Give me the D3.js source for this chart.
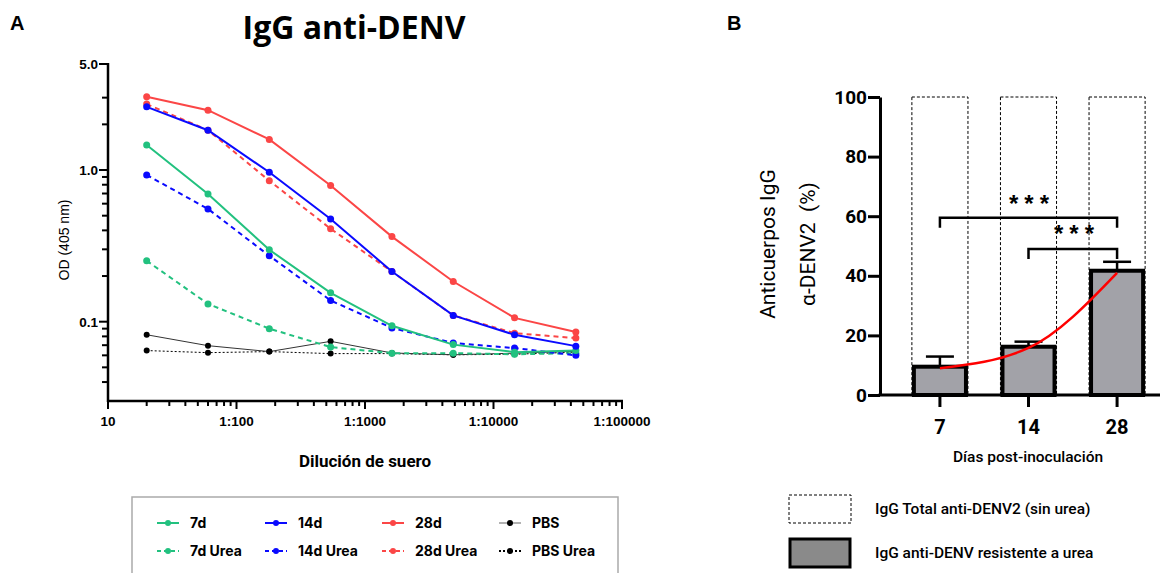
<!DOCTYPE html>
<html>
<head>
<meta charset="utf-8">
<script src="https://cdn.jsdelivr.net/npm/d3@7"></script>
<style>
  body { margin:0; background:#fff; font-family:"Liberation Sans", Arial, sans-serif; }
  svg text { font-family:"Liberation Sans", Arial, sans-serif; }
</style>
</head>
<body>
<div id="chart"></div>
<script>
// ---- panel A data (3-fold dilutions from 1:20) ----
var dilutions = [20, 60, 180, 540, 1620, 4860, 14580, 43740];
var od7    = [1.46, 0.695, 0.298, 0.155, 0.094, 0.0706, 0.063, 0.0646];
var od14   = [2.61, 1.83, 0.966, 0.476, 0.214, 0.110, 0.082, 0.069];
var od28   = [3.04, 2.48, 1.59, 0.79, 0.364, 0.184, 0.106, 0.0855];
var odPBS  = [0.082, 0.0695, 0.0635, 0.0742, 0.0622, 0.0605, 0.062, 0.0638];
var od7u   = [0.252, 0.131, 0.090, 0.068, 0.062, 0.062, 0.061, 0.062];
var od14u  = [0.927, 0.554, 0.272, 0.138, 0.091, 0.0724, 0.067, 0.060];
var od28u  = [2.72, 1.83, 0.85, 0.41, 0.214, 0.110, 0.084, 0.078];
var odPBSu = [0.0645, 0.0625, 0.0635, 0.0616, 0.0616, 0.0605, 0.061, 0.063];
var xTickVals = [10, 100, 1000, 10000, 100000];
var xTickLabels = ["10", "1:100", "1:1000", "1:10000", "1:100000"];
var yTickVals = [0.1, 1, 5];
var yTickLabels = ["0.1", "1.0", "5.0"];

// ---- panel B data ----
var dias = ["7", "14", "28"];
var resistente = [9.5, 16.2, 41.7];
var errorSup = [12.9, 17.9, 44.7];
var totalIgG = [100, 100, 100];
var tendencia = [9.0, 15.8, 41.0];

var W = 1172, H = 573;
var svg = d3.select("#chart").append("svg").attr("width", W).attr("height", H);

var green = "#22c17f", blue = "#0a0aff", red = "#fb4646", black = "#000";

// ================= PANEL A =================
svg.append("text").attr("x", 10).attr("y", 30).text("A")
  .style("font-weight", "bold").style("font-size", "20px");
svg.append("text").attr("x", 354).attr("y", 39).attr("text-anchor", "middle")
  .text("IgG anti-DENV").style("font-weight", "bold").style("font-size", "32px")
  .style("font-family", "'Open Sans', 'Liberation Sans', sans-serif");

var x = d3.scaleLog().domain([10, 100000]).range([108, 622]);
var y = d3.scaleLog().domain([0.03, 5]).range([401, 64]);

var gA = svg.append("g");

// minor ticks x
var xMinor = [];
[10, 100, 1000, 10000].forEach(function(d) { for (var k = 2; k <= 9; k++) xMinor.push(d * k); });
gA.selectAll(".xminor").data(xMinor).enter().append("line")
  .attr("x1", d => x(d)).attr("x2", d => x(d)).attr("y1", 401).attr("y2", 406)
  .attr("stroke", black).attr("stroke-width", 2);
gA.selectAll(".xmajor").data(xTickVals).enter().append("line")
  .attr("x1", d => x(d)).attr("x2", d => x(d)).attr("y1", 401).attr("y2", 409)
  .attr("stroke", black).attr("stroke-width", 2);
gA.selectAll(".xlab").data(xTickVals).enter().append("text")
  .attr("x", d => x(d)).attr("y", 426).attr("text-anchor", "middle")
  .text((d, i) => xTickLabels[i]).style("font-weight", "bold").style("font-size", "13.5px");

// minor ticks y
var yMinor = [0.04, 0.05, 0.06, 0.07, 0.08, 0.09, 0.2, 0.3, 0.4, 0.5, 0.6, 0.7, 0.8, 0.9, 2, 3];
gA.selectAll(".yminor").data(yMinor).enter().append("line")
  .attr("x1", 102).attr("x2", 108).attr("y1", d => y(d)).attr("y2", d => y(d))
  .attr("stroke", black).attr("stroke-width", 2);
gA.selectAll(".ymajor").data(yTickVals).enter().append("line")
  .attr("x1", 99).attr("x2", 108).attr("y1", d => y(d)).attr("y2", d => y(d))
  .attr("stroke", black).attr("stroke-width", 2);
gA.selectAll(".ylab").data(yTickVals).enter().append("text")
  .attr("x", 98).attr("y", d => y(d) + 5).attr("text-anchor", "end")
  .text((d, i) => yTickLabels[i]).style("font-weight", "bold").style("font-size", "13.5px");

gA.append("line").attr("x1", 108).attr("x2", 108).attr("y1", 63).attr("y2", 402)
  .attr("stroke", black).attr("stroke-width", 2.5);
gA.append("line").attr("x1", 107).attr("x2", 623).attr("y1", 401).attr("y2", 401)
  .attr("stroke", black).attr("stroke-width", 2.5);

gA.append("text").attr("transform", "translate(69,240) rotate(-90)").attr("text-anchor", "middle")
  .text("OD (405 nm)").style("font-size", "14px");
gA.append("text").attr("x", 365).attr("y", 467).attr("text-anchor", "middle")
  .text("Dilución de suero").style("font-size", "17px").style("font-weight", "bold")
  .style("font-family", "Roboto, 'Liberation Sans', sans-serif");

var series = [
  { name: "PBS Urea", vals: odPBSu, color: black, dash: "2,2", w: 1, r: 3 },
  { name: "PBS", vals: odPBS, color: "#333", dash: null, w: 1, r: 3 },
  { name: "7d Urea", vals: od7u, color: green, dash: "5,4", w: 2, r: 3.5 },
  { name: "14d Urea", vals: od14u, color: blue, dash: "5,4", w: 2, r: 3.5 },
  { name: "28d Urea", vals: od28u, color: red, dash: "5,4", w: 2, r: 3.5 },
  { name: "7d", vals: od7, color: green, dash: null, w: 2, r: 3.5 },
  { name: "14d", vals: od14, color: blue, dash: null, w: 2, r: 3.5 },
  { name: "28d", vals: od28, color: red, dash: null, w: 2, r: 3.5 }
];
var line = d3.line().x((d, i) => x(dilutions[i])).y(d => y(d));
series.forEach(function(s) {
  gA.append("path").datum(s.vals).attr("d", line).attr("fill", "none")
    .attr("stroke", s.color).attr("stroke-width", s.w).attr("stroke-dasharray", s.dash);
  gA.selectAll(null).data(s.vals).enter().append("circle")
    .attr("cx", (d, i) => x(dilutions[i])).attr("cy", d => y(d)).attr("r", s.r)
    .attr("fill", s.color === "#333" ? black : s.color);
});

// legend A
svg.append("rect").attr("x", 132).attr("y", 497).attr("width", 486).attr("height", 90)
  .attr("fill", "none").attr("stroke", "#aaa").attr("stroke-width", 1.5);
var legA = [
  { name: "7d", color: green, dash: null, col: 0, row: 0 },
  { name: "14d", color: blue, dash: null, col: 1, row: 0 },
  { name: "28d", color: red, dash: null, col: 2, row: 0 },
  { name: "PBS", color: "#999", dash: null, col: 3, row: 0 },
  { name: "7d Urea", color: green, dash: "4,3", col: 0, row: 1 },
  { name: "14d Urea", color: blue, dash: "4,3", col: 1, row: 1 },
  { name: "28d Urea", color: red, dash: "4,3", col: 2, row: 1 },
  { name: "PBS Urea", color: black, dash: "2,2", col: 3, row: 1 }
];
var colX = [157, 265, 382, 499];
legA.forEach(function(l) {
  var lx = colX[l.col], ly = 523 + l.row * 28;
  svg.append("line").attr("x1", lx).attr("x2", lx + 22).attr("y1", ly).attr("y2", ly)
    .attr("stroke", l.color).attr("stroke-width", l.name === "PBS" ? 1.5 : 2).attr("stroke-dasharray", l.dash);
  svg.append("circle").attr("cx", lx + 11).attr("cy", ly).attr("r", 3)
    .attr("fill", l.name.indexOf("PBS") === 0 ? black : l.color);
  svg.append("text").attr("x", lx + 33).attr("y", ly + 5).text(l.name)
    .style("font-weight", "bold").style("font-size", "14px")
    .style("font-family", "Inter, 'Liberation Sans', sans-serif");
});

// ================= PANEL B =================
svg.append("text").attr("x", 727).attr("y", 30).text("B")
  .style("font-weight", "bold").style("font-size", "20px");

var xb = d3.scaleBand().domain(dias).range([880, 1177]).paddingInner(0.367).paddingOuter(0.36);
var yb = d3.scaleLinear().domain([0, 100]).range([395, 97]);
var gB = svg.append("g");

// dashed total boxes
gB.selectAll(".tot").data(totalIgG).enter().append("rect")
  .attr("x", (d, i) => xb(dias[i])).attr("width", xb.bandwidth())
  .attr("y", d => yb(d)).attr("height", d => yb(0) - yb(d))
  .attr("fill", "none").attr("stroke", black).attr("stroke-width", 1).attr("stroke-dasharray", "3,2");

// error bars
gB.selectAll(".err").data(errorSup).enter().append("line")
  .attr("x1", (d, i) => xb(dias[i]) + xb.bandwidth() / 2).attr("x2", (d, i) => xb(dias[i]) + xb.bandwidth() / 2)
  .attr("y1", (d, i) => yb(resistente[i])).attr("y2", d => yb(d))
  .attr("stroke", black).attr("stroke-width", 2.5);
gB.selectAll(".cap").data(errorSup).enter().append("line")
  .attr("x1", (d, i) => xb(dias[i]) + xb.bandwidth() / 2 - 14).attr("x2", (d, i) => xb(dias[i]) + xb.bandwidth() / 2 + 14)
  .attr("y1", d => yb(d)).attr("y2", d => yb(d))
  .attr("stroke", black).attr("stroke-width", 2.5);

// bars
gB.selectAll(".bar").data(resistente).enter().append("rect")
  .attr("x", (d, i) => xb(dias[i]) + 2).attr("width", xb.bandwidth() - 4)
  .attr("y", d => yb(d)).attr("height", d => yb(0) - yb(d))
  .attr("fill", "#a2a2a8").attr("stroke", black).attr("stroke-width", 4);

// trend line
var tl = d3.line().x((d, i) => xb(dias[i]) + xb.bandwidth() / 2).y(d => yb(d)).curve(d3.curveMonotoneX);
gB.append("path").datum(tendencia).attr("d", tl).attr("fill", "none")
  .attr("stroke", "#f00").attr("stroke-width", 2.5);

// axes
var yAxB = d3.axisLeft(yb).tickValues([0, 20, 40, 60, 80, 100]).tickSize(12).tickSizeOuter(0);
var gy = gB.append("g").attr("transform", "translate(880,0)").call(yAxB);
gy.select(".domain").attr("stroke-width", 3);
gy.selectAll(".tick line").attr("stroke-width", 3);
gy.selectAll(".tick text").style("font-size", "19px").style("font-weight", "bold")
  .style("font-family", "Roboto, 'Liberation Sans', sans-serif").attr("x", -13);

gB.append("line").attr("x1", 878.5).attr("x2", 1160).attr("y1", 395).attr("y2", 395)
  .attr("stroke", black).attr("stroke-width", 3);
gB.selectAll(".xt").data(dias).enter().append("line")
  .attr("x1", d => xb(d) + xb.bandwidth() / 2).attr("x2", d => xb(d) + xb.bandwidth() / 2)
  .attr("y1", 395).attr("y2", 407).attr("stroke", black).attr("stroke-width", 3);
gB.selectAll(".xtl").data(dias).enter().append("text")
  .attr("x", d => xb(d) + xb.bandwidth() / 2).attr("y", 434).attr("text-anchor", "middle")
  .text(d => d).style("font-size", "20px").style("font-weight", "bold")
  .style("font-family", "Roboto, 'Liberation Sans', sans-serif");

gB.append("text").attr("x", 1028).attr("y", 462).attr("text-anchor", "middle")
  .text("Días post-inoculación").style("font-size", "15.5px").style("font-weight", "500")
  .style("font-family", "Roboto, 'Liberation Sans', sans-serif");

gB.append("text").attr("transform", "translate(775,244) rotate(-90)").attr("text-anchor", "middle")
  .text("Anticuerpos IgG").style("font-size", "21px")
  .style("font-family", "Roboto, 'Liberation Sans', sans-serif");
gB.append("text").attr("transform", "translate(815,244) rotate(-90)").attr("text-anchor", "middle")
  .attr("xml:space", "preserve")
  .text("α-DENV2  (%)").style("font-size", "21px")
  .style("font-family", "Roboto, 'Liberation Sans', sans-serif");

// significance brackets
function bracket(i1, i2, v, label, sx, sy) {
  var x1 = xb(dias[i1]) + xb.bandwidth() / 2, x2 = xb(dias[i2]) + xb.bandwidth() / 2, yy = yb(v);
  gB.append("path").attr("d", "M" + x1 + "," + (yy + 10) + "V" + yy + "H" + x2 + "V" + (yy + 10))
    .attr("fill", "none").attr("stroke", black).attr("stroke-width", 2.5);
  gB.append("text").attr("x", sx + 3).attr("y", sy).attr("text-anchor", "middle")
    .text(label).style("font-size", "24px").style("font-weight", "bold").style("letter-spacing", "6px");
}
bracket(0, 2, 59.5, "***", 1029, 212);
bracket(1, 2, 49, "***", 1074, 242);

// legend B
svg.append("rect").attr("x", 789).attr("y", 495).attr("width", 62).attr("height", 28)
  .attr("fill", "none").attr("stroke", black).attr("stroke-width", 1).attr("stroke-dasharray", "3,2");
svg.append("text").attr("x", 875).attr("y", 514).text("IgG Total anti-DENV2 (sin urea)")
  .style("font-size", "15.5px").style("font-weight", "500").style("font-family", "Roboto, 'Liberation Sans', sans-serif");
svg.append("rect").attr("x", 790).attr("y", 539).attr("width", 60).attr("height", 28)
  .attr("fill", "#8a8a8a").attr("stroke", black).attr("stroke-width", 3);
svg.append("text").attr("x", 875).attr("y", 558).text("IgG anti-DENV resistente a urea")
  .style("font-size", "15.5px").style("font-weight", "500").style("font-family", "Roboto, 'Liberation Sans', sans-serif");
</script>
</body>
</html>
